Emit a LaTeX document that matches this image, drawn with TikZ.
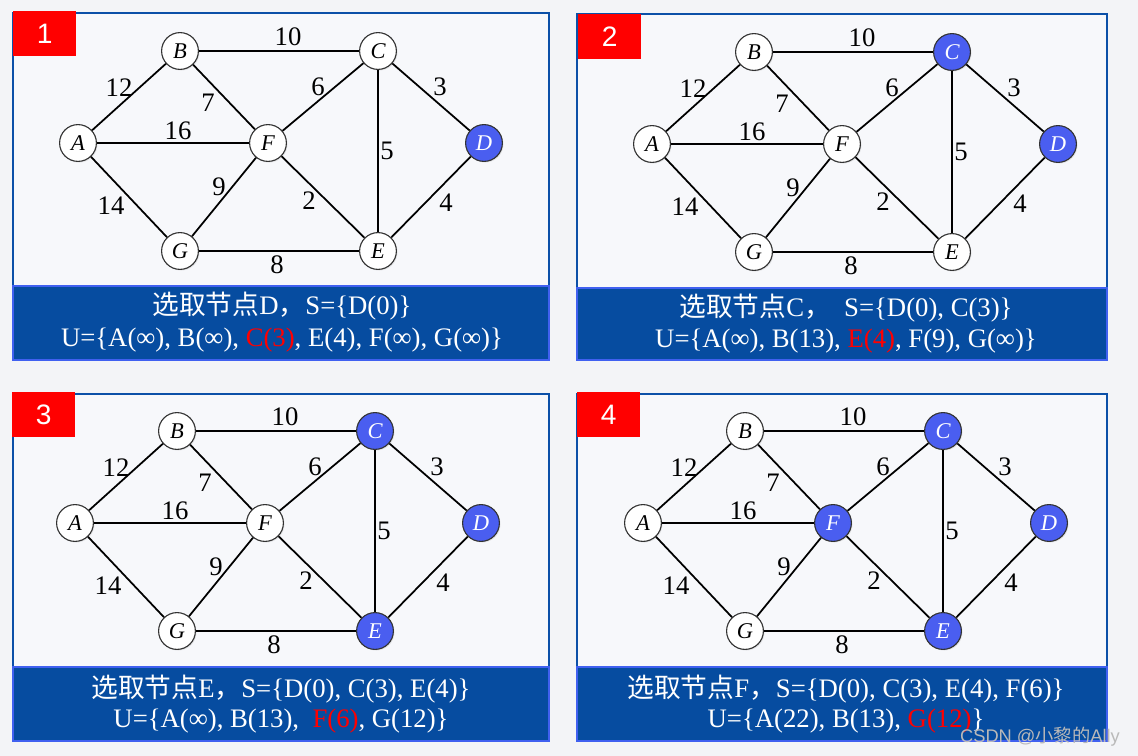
\documentclass[tikz,border=0pt]{standalone}
\usepackage{fontspec}
\setmainfont{Liberation Serif}
\newfontfamily\cjk{Noto Sans CJK SC}
\newfontfamily\numfont{Liberation Sans}
\usetikzlibrary{shadows}

\definecolor{framebl}{RGB}{12,80,168}
\definecolor{barbl}{RGB}{6,76,160}
\definecolor{barrim}{RGB}{64,96,240}
\definecolor{visit}{RGB}{74,94,240}
\definecolor{tagred}{RGB}{255,0,0}
\definecolor{paper}{RGB}{243,244,247}
\definecolor{panelbg}{RGB}{247,248,251}

\tikzset{
  vert/.style={circle, draw=black!80, line width=0.8pt, fill=white, minimum size=0.92cm,
    inner sep=0pt, font=\fontsize{16}{16}\selectfont\itshape,
    drop shadow={opacity=0.18, shadow xshift=0.8pt, shadow yshift=-0.8pt}},
  seen/.style={vert, fill=visit, text=white},
  link/.style={line width=1.25pt},
  wt/.style={font=\fontsize{19}{19}\selectfont, inner sep=0pt},
  numtag/.style={fill=tagred, text=white, font=\numfont\fontsize{20}{20}\selectfont,
    minimum width=1.575cm, minimum height=1.125cm, anchor=north west, inner sep=0pt},
  panel/.style={draw=framebl, line width=1.3pt, fill=panelbg},
  capbar/.style={draw=barrim, line width=1.6pt, fill=barbl},
  captext/.style={text=white, font=\fontsize{19}{19}\selectfont, inner sep=0pt}
}

% one copy of the graph; #1 = suffix, #2..#8 = styles of A..G
\newcommand{\dgraph}[8]{%
  \node[#2] (A#1) at (67,130) {A};
  \node[#3] (B#1) at (169,38) {B};
  \node[#4] (C#1) at (367,38) {C};
  \node[#5] (D#1) at (473,130) {D};
  \node[#6] (E#1) at (367,238) {E};
  \node[#7] (F#1) at (257,130) {F};
  \node[#8] (G#1) at (169,238) {G};
  \draw[link] (A#1) -- (B#1);
  \draw[link] (A#1) -- (F#1);
  \draw[link] (A#1) -- (G#1);
  \draw[link] (B#1) -- (C#1);
  \draw[link] (B#1) -- (F#1);
  \draw[link] (C#1) -- (F#1);
  \draw[link] (C#1) -- (E#1);
  \draw[link] (C#1) -- (D#1);
  \draw[link] (D#1) -- (E#1);
  \draw[link] (F#1) -- (E#1);
  \draw[link] (F#1) -- (G#1);
  \draw[link] (G#1) -- (E#1);
  \node[wt] (wBC#1) at (277,24) {10};
  \node[wt] (wAB#1) at (108,75) {12};
  \node[wt] (wBF#1) at (197,90) {7};
  \node[wt] (wCF#1) at (307,74) {6};
  \node[wt] (wCD#1) at (429,74) {3};
  \node[wt] (wAF#1) at (167,118) {16};
  \node[wt] (wCE#1) at (376,138) {5};
  \node[wt] (wFG#1) at (208,174) {9};
  \node[wt] (wFE#1) at (298,188) {2};
  \node[wt] (wAG#1) at (100,193) {14};
  \node[wt] (wDE#1) at (435,190) {4};
  \node[wt] (wGE#1) at (266,252) {8};
}

\begin{document}
\begin{tikzpicture}[x=0.025cm, y=-0.025cm]
  \useasboundingbox (0,0) rectangle (1138,756);
  \fill[paper] (0,0) rectangle (1138,756);

  % panel 1
  \draw[panel] (13,13) rectangle (549,360);
  \begin{scope}[shift={(11,13)}]
    \dgraph{1}{vert}{vert}{vert}{seen}{vert}{vert}{vert}
  \end{scope}
  \draw[capbar] (13,286) rectangle (549,360);
  \node[captext] (cap1a) at (282,306) {{\cjk 选取节点}D{\cjk ，}S=\{D(0)\}};
  \node[captext] (cap1b) at (282,340) {U=\{A(∞), B(∞), \textcolor{red}{C(3)}, E(4), F(∞), G(∞)\}};
  \node[numtag] (tag1) at (13,11) {1};

  % panel 2
  \draw[panel] (577,14) rectangle (1107,360);
  \begin{scope}[shift={(585,14)}]
    \dgraph{2}{vert}{vert}{seen}{seen}{vert}{vert}{vert}
  \end{scope}
  \draw[capbar] (577,288) rectangle (1107,360);
  \node[captext] (cap2a) at (846,308) {{\cjk 选取节点}C{\cjk ，}\ \ S=\{D(0), C(3)\}};
  \node[captext] (cap2b) at (846,341) {U=\{A(∞), B(13), \textcolor{red}{E(4)}, F(9), G(∞)\}};
  \node[numtag] (tag2) at (578,14) {2};

  % panel 3
  \draw[panel] (13,394) rectangle (549,741);
  \begin{scope}[shift={(8,393)}]
    \dgraph{3}{vert}{vert}{seen}{seen}{seen}{vert}{vert}
  \end{scope}
  \draw[capbar] (13,667) rectangle (549,741);
  \node[captext] (cap3a) at (281,689) {{\cjk 选取节点}E{\cjk ，}S=\{D(0), C(3), E(4)\}};
  \node[captext] (cap3b) at (281,721) {U=\{A(∞), B(13),\ \ \textcolor{red}{F(6)}, G(12)\}};
  \node[numtag] (tag3) at (12,392) {3};

  % panel 4
  \draw[panel] (577,394) rectangle (1107,741);
  \begin{scope}[shift={(576,393)}]
    \dgraph{4}{vert}{vert}{seen}{seen}{seen}{seen}{vert}
  \end{scope}
  \draw[capbar] (577,667) rectangle (1107,741);
  \node[captext] (cap4a) at (846,689) {{\cjk 选取节点}F{\cjk ，}S=\{D(0), C(3), E(4), F(6)\}};
  \node[captext] (cap4b) at (846,721) {U=\{A(22), B(13), \textcolor{red}{G(12)}\}};
  \node[numtag] (tag4) at (577,392) {4};

  \node[text=gray!55, font=\fontsize{13}{13}\selectfont, inner sep=0pt] (mark) at (1040,737)
    {{\numfont CSDN @}{\cjk 小黎的}{\numfont Ally}};
\end{tikzpicture}
\end{document}
